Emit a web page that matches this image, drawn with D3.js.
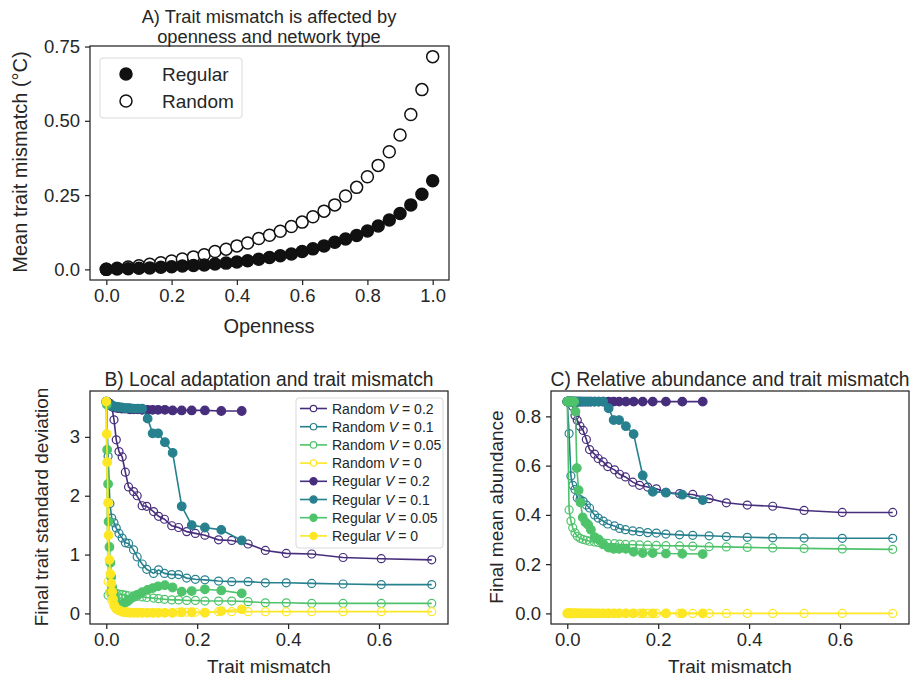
<!DOCTYPE html>
<html>
<head>
<meta charset="utf-8">
<script src="https://cdn.jsdelivr.net/npm/d3@7"></script>
<style>
  body { margin: 0; background: #fff; }
  svg { font-family: "Liberation Sans", Arial, sans-serif; }
</style>
</head>
<body>
<script>
// openness levels and the mismatch they produce (panel A, also the x of B and C)
var openness = [0, 0.033, 0.067, 0.1, 0.133, 0.167, 0.2, 0.233, 0.267, 0.3, 0.333, 0.367, 0.4, 0.433, 0.467,
  0.5, 0.533, 0.567, 0.6, 0.633, 0.667, 0.7, 0.733, 0.767, 0.8, 0.833, 0.867, 0.9, 0.933, 0.967, 1.0];
var regularMismatch = [0, 0.001, 0.002, 0.004, 0.005, 0.007, 0.009, 0.011, 0.013, 0.015, 0.018, 0.021, 0.025,
  0.029, 0.034, 0.040, 0.046, 0.052, 0.060, 0.069, 0.079, 0.091, 0.102, 0.114, 0.129, 0.146, 0.166, 0.188, 0.217, 0.253, 0.298];
var randomMismatch = [0, 0.004, 0.008, 0.012, 0.017, 0.022, 0.028, 0.035, 0.042, 0.049, 0.060, 0.068, 0.079,
  0.089, 0.104, 0.115, 0.128, 0.144, 0.159, 0.177, 0.196, 0.217, 0.247, 0.276, 0.312, 0.350, 0.396, 0.452, 0.521, 0.605, 0.716];

// panel B: final trait standard deviation
var sdRandomV02 = [3.60, 3.59, 3.57, 3.52, 3.29, 2.95, 2.75, 2.66, 2.40, 2.15, 2.07, 2.00, 1.83, 1.82, 1.73, 1.65,
  1.60, 1.49, 1.46, 1.39, 1.36, 1.33, 1.25, 1.24, 1.18, 1.07, 1.02, 1.01, 0.95, 0.93, 0.91];
var sdRandomV01 = [3.60, 2.67, 1.87, 1.62, 1.54, 1.45, 1.36, 1.28, 1.20, 1.19, 1.08, 0.96, 0.84, 0.75, 0.68, 0.74,
  0.68, 0.66, 0.66, 0.60, 0.58, 0.57, 0.55, 0.54, 0.54, 0.52, 0.52, 0.51, 0.50, 0.49, 0.49];
var sdRandomV005 = [3.60, 0.31, 0.36, 0.37, 0.35, 0.34, 0.33, 0.32, 0.31, 0.30, 0.30, 0.29, 0.28, 0.27, 0.26, 0.25,
  0.24, 0.23, 0.23, 0.22, 0.22, 0.21, 0.21, 0.21, 0.20, 0.18, 0.18, 0.17, 0.17, 0.17, 0.17];
var sdRandomV0 = [3.60, 0.54, 0.36, 0.22, 0.13, 0.08, 0.05, 0.04, 0.03, 0.02, 0.02, 0.02, 0.01, 0.01, 0.01, 0.01,
  0.01, 0.01, 0.02, 0.02, 0.02, 0.02, 0.03, 0.03, 0.03, 0.03, 0.03, 0.03, 0.03, 0.03, 0.03];
var sdRegularV02 = [3.60, 3.59, 3.58, 3.57, 3.56, 3.55, 3.54, 3.53, 3.52, 3.51, 3.50, 3.50, 3.49, 3.49, 3.48, 3.48,
  3.48, 3.47, 3.47, 3.47, 3.46, 3.46, 3.46, 3.46, 3.46, 3.45, 3.45, 3.45, 3.45, 3.44, 3.44];
var sdRegularV01 = [3.60, 3.59, 3.58, 3.57, 3.56, 3.55, 3.54, 3.53, 3.53, 3.52, 3.52, 3.51, 3.51, 3.50, 3.50, 3.49,
  3.49, 3.49, 3.48, 3.48, 3.48, 3.31, 3.06, 3.06, 2.91, 2.73, 1.82, 1.50, 1.46, 1.42, 1.24];
var sdRegularV005 = [3.60, 3.55, 2.78, 2.20, 1.56, 1.13, 0.86, 0.62, 0.45, 0.33, 0.25, 0.20, 0.17, 0.15, 0.15, 0.18,
  0.20, 0.24, 0.28, 0.32, 0.36, 0.40, 0.43, 0.46, 0.48, 0.44, 0.37, 0.38, 0.41, 0.39, 0.34];
var sdRegularV0 = [3.60, 3.05, 2.57, 1.88, 1.33, 0.91, 0.67, 0.51, 0.37, 0.24, 0.14, 0.09, 0.06, 0.05, 0.03, 0.02,
  0.02, 0.01, 0.01, 0.01, 0.01, 0.01, 0.01, 0.01, 0.01, 0.01, 0.02, 0.02, 0.01, 0.04, 0.07];

// panel C: final mean abundance
var abRandomV02 = [0.86, 0.86, 0.86, 0.84, 0.804, 0.784, 0.76, 0.743, 0.706, 0.665, 0.647, 0.629, 0.615, 0.596,
  0.583, 0.565, 0.554, 0.533, 0.52, 0.513, 0.506, 0.492, 0.486, 0.483, 0.466, 0.449, 0.44, 0.435, 0.418, 0.41, 0.41];
var abRandomV01 = [0.86, 0.73, 0.558, 0.52, 0.503, 0.47, 0.462, 0.455, 0.44, 0.428, 0.40, 0.387, 0.375, 0.363,
  0.355, 0.345, 0.34, 0.335, 0.332, 0.328, 0.326, 0.322, 0.319, 0.317, 0.315, 0.312, 0.309, 0.307, 0.306, 0.305, 0.305];
var abRandomV005 = [0.86, 0.42, 0.375, 0.348, 0.327, 0.313, 0.305, 0.30, 0.297, 0.293, 0.29, 0.288, 0.286, 0.284,
  0.283, 0.281, 0.28, 0.279, 0.278, 0.277, 0.276, 0.275, 0.274, 0.273, 0.271, 0.27, 0.268, 0.266, 0.264, 0.262, 0.26];
var abRandomV0 = [0, 0, 0, 0, 0, 0, 0, 0, 0, 0, 0, 0, 0, 0, 0, 0, 0, 0, 0, 0, 0, 0, 0, 0, 0, 0, 0, 0, 0, 0, 0];
var abRegularV02 = [0.86, 0.86, 0.86, 0.86, 0.86, 0.86, 0.86, 0.86, 0.86, 0.86, 0.86, 0.86, 0.86, 0.86, 0.86, 0.86,
  0.86, 0.86, 0.86, 0.86, 0.86, 0.86, 0.86, 0.86, 0.86, 0.86, 0.86, 0.86, 0.86, 0.86, 0.86];
var abRegularV01 = [0.86, 0.86, 0.86, 0.86, 0.86, 0.86, 0.86, 0.86, 0.86, 0.86, 0.86, 0.86, 0.86, 0.86, 0.86, 0.86,
  0.86, 0.86, 0.86, 0.86, 0.86, 0.833, 0.785, 0.785, 0.76, 0.728, 0.56, 0.494, 0.49, 0.482, 0.46];
var abRegularV005 = [0.86, 0.86, 0.86, 0.86, 0.86, 0.86, 0.86, 0.86, 0.86, 0.86, 0.82, 0.59, 0.50, 0.45, 0.39, 0.37,
  0.36, 0.34, 0.31, 0.30, 0.28, 0.267, 0.262, 0.262, 0.262, 0.25, 0.245, 0.245, 0.243, 0.242, 0.241];
var abRegularV0 = [0, 0, 0, 0, 0, 0, 0, 0, 0, 0, 0, 0, 0, 0, 0, 0, 0, 0, 0, 0, 0, 0, 0, 0, 0, 0, 0, 0, 0, 0, 0];

var vLabels = ["0.2", "0.1", "0.05", "0"];

// tick labels
var aTicksX = ["0.0", "0.2", "0.4", "0.6", "0.8", "1.0"];
var aTicksY = ["0.0", "0.25", "0.50", "0.75"];
var bcTicksX = ["0.0", "0.2", "0.4", "0.6"];
var bTicksY = ["0", "1", "2", "3"];
var cTicksY = ["0.0", "0.2", "0.4", "0.6", "0.8"];

var W = 914, H = 683;
var ink = "#262626";
var svg = d3.select("body").append("svg").attr("width", W).attr("height", H);

var vColor = d3.scaleOrdinal().domain(vLabels)
  .range([0.13, 0.43, 0.72, 1.0].map(function (t) { return d3.interpolateViridis(t); }));

function pad(lo, hi) {
  var m = (hi - lo) * 0.05;
  return [lo - m, hi + m];
}

function panel(box, xdom, ydom, xt, yt) {
  var x = d3.scaleLinear().domain(xdom).range([box.l, box.r]);
  var y = d3.scaleLinear().domain(ydom).range([box.b, box.t]);
  var g = svg.append("g");
  var plot = g.append("g");
  g.append("rect").attr("x", box.l).attr("y", box.t)
    .attr("width", box.r - box.l).attr("height", box.b - box.t)
    .attr("fill", "none").attr("stroke", ink).attr("stroke-width", 1.25);
  var ax = g.append("g").attr("transform", "translate(0," + box.b + ")")
    .call(d3.axisBottom(x).tickValues(xt.map(Number)).tickFormat(function (d, i) { return xt[i]; })
      .tickSize(5).tickSizeOuter(0).tickPadding(4));
  var ay = g.append("g").attr("transform", "translate(" + box.l + ",0)")
    .call(d3.axisLeft(y).tickValues(yt.map(Number)).tickFormat(function (d, i) { return yt[i]; })
      .tickSize(5).tickSizeOuter(0).tickPadding(5));
  [ax, ay].forEach(function (a) {
    a.select(".domain").remove();
    a.selectAll("line").attr("stroke", ink).attr("stroke-width", 1.25);
    a.selectAll("text").attr("fill", ink).style("font-size", "18.5px").style("font-family", null);
  });
  return { x: x, y: y, plot: plot, g: g, box: box };
}

function label(txt, x, y, rot, size) {
  svg.append("text").attr("text-anchor", "middle").attr("fill", ink)
    .attr("transform", "translate(" + x + "," + y + ")" + (rot ? " rotate(-90)" : ""))
    .style("font-size", size + "px").text(txt);
}

// ---------- panel A ----------
var A = panel({ l: 90, r: 449, t: 46, b: 280 }, pad(0, 1), pad(0, d3.max(randomMismatch)), aTicksX, aTicksY);
A.plot.selectAll(".rnd").data(randomMismatch).enter().append("circle")
  .attr("cx", function (d, i) { return A.x(openness[i]); })
  .attr("cy", function (d) { return A.y(d); })
  .attr("r", 6).attr("fill", "#fff").attr("stroke", "#111").attr("stroke-width", 1.5);
A.plot.selectAll(".reg").data(regularMismatch).enter().append("circle")
  .attr("cx", function (d, i) { return A.x(openness[i]); })
  .attr("cy", function (d) { return A.y(d); })
  .attr("r", 6).attr("fill", "#111").attr("stroke", "#111").attr("stroke-width", 1.5);

label("A) Trait mismatch is affected by", 269, 23, false, 18.3);
label("openness and network type", 269, 43, false, 18.3);
label("Openness", 269, 333, false, 20);
label("Mean trait mismatch (\u00b0C)", 27, 162, true, 20);

var legA = svg.append("g");
legA.append("rect").attr("x", 100).attr("y", 58).attr("width", 142).attr("height", 60).attr("rx", 3)
  .attr("fill", "#fff").attr("stroke", "#d9d9d9");
["Regular", "Random"].forEach(function (n, i) {
  var yy = 74 + i * 27;
  legA.append("circle").attr("cx", 126).attr("cy", yy).attr("r", 6)
    .attr("fill", n === "Regular" ? "#111" : "#fff").attr("stroke", "#111").attr("stroke-width", 1.5);
  legA.append("text").attr("x", 162).attr("y", yy + 6.5).attr("fill", ink)
    .style("font-size", "19px").text(n);
});

// ---------- panels B and C ----------
var series = [
  { net: "Random", v: "0.2", b: sdRandomV02, c: abRandomV02 },
  { net: "Random", v: "0.1", b: sdRandomV01, c: abRandomV01 },
  { net: "Random", v: "0.05", b: sdRandomV005, c: abRandomV005 },
  { net: "Random", v: "0", b: sdRandomV0, c: abRandomV0 },
  { net: "Regular", v: "0.2", b: sdRegularV02, c: abRegularV02 },
  { net: "Regular", v: "0.1", b: sdRegularV01, c: abRegularV01 },
  { net: "Regular", v: "0.05", b: sdRegularV005, c: abRegularV005 },
  { net: "Regular", v: "0", b: sdRegularV0, c: abRegularV0 }
];

var xMax = d3.max(randomMismatch);
var B = panel({ l: 90, r: 448, t: 391, b: 624 }, pad(0, xMax), pad(0, d3.max(sdRandomV02)), bcTicksX, bTicksY);
var C = panel({ l: 551, r: 909, t: 391, b: 624 }, pad(0, xMax), pad(0, d3.max(abRegularV02)), bcTicksX, cTicksY);

function drawSeries(P, key) {
  series.forEach(function (s) {
    var xs = s.net === "Random" ? randomMismatch : regularMismatch;
    var pts = s[key].map(function (v, i) { return [xs[i], v]; });
    var col = vColor(s.v);
    var sg = P.plot.append("g");
    sg.append("path").datum(pts)
      .attr("d", d3.line().x(function (d) { return P.x(d[0]); }).y(function (d) { return P.y(d[1]); }))
      .attr("fill", "none").attr("stroke", col).attr("stroke-width", 1.6);
    sg.selectAll("circle").data(pts).enter().append("circle")
      .attr("cx", function (d) { return P.x(d[0]); })
      .attr("cy", function (d) { return P.y(d[1]); })
      .attr("r", s.net === "Random" ? 4 : 4.3)
      .attr("fill", s.net === "Random" ? "none" : col)
      .attr("stroke", col).attr("stroke-width", 1.2);
  });
}
drawSeries(B, "b");
drawSeries(C, "c");

label("B) Local adaptation and trait mismatch", 269, 386, false, 19.3);
label("C) Relative abundance and trait mismatch", 730, 386, false, 19.3);
label("Trait mismatch", 269, 673, false, 19);
label("Trait mismatch", 730, 673, false, 19);
label("Final trait standard deviation", 48, 507, true, 19);
label("Final mean abundance", 503, 507, true, 19);

// legend in panel B
var legB = svg.append("g");
legB.append("rect").attr("x", 296).attr("y", 398).attr("width", 147).attr("height", 150).attr("rx", 3)
  .attr("fill", "#fff").attr("stroke", "#d9d9d9");
series.forEach(function (s, i) {
  var yy = 408.5 + i * 18.2;
  var col = vColor(s.v);
  legB.append("line").attr("x1", 300).attr("x2", 327).attr("y1", yy).attr("y2", yy)
    .attr("stroke", col).attr("stroke-width", 1.6);
  legB.append("circle").attr("cx", 313.5).attr("cy", yy).attr("r", s.net === "Random" ? 3.2 : 3.6)
    .attr("fill", s.net === "Random" ? "#fff" : col).attr("stroke", col).attr("stroke-width", 1.2);
  var t = legB.append("text").attr("x", 332).attr("y", yy + 5).attr("fill", ink).style("font-size", "14px");
  t.append("tspan").text(s.net + " ");
  t.append("tspan").style("font-style", "italic").text("V");
  t.append("tspan").text(" = " + s.v);
});
</script>
</body>
</html>
